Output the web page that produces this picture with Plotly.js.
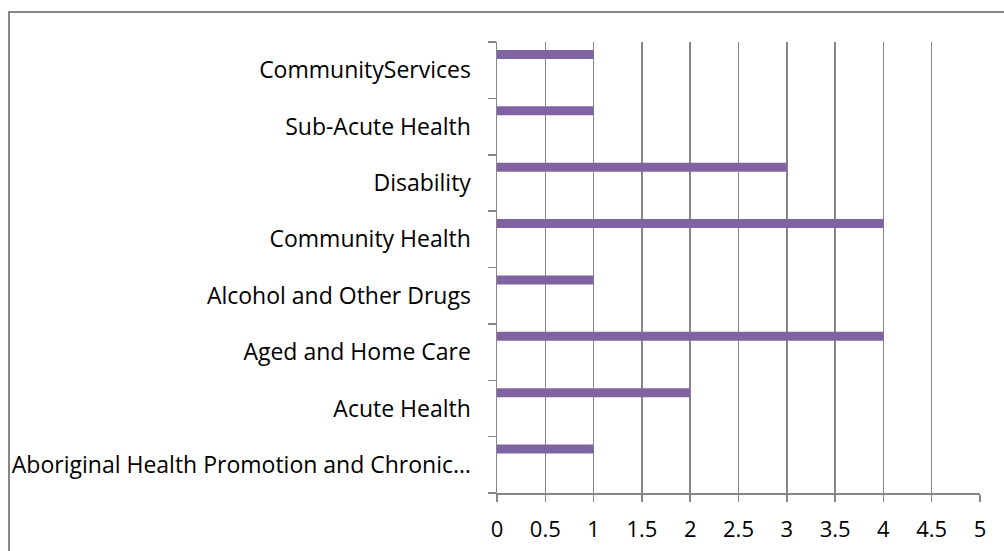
<!DOCTYPE html>
<html>
<head>
<meta charset="utf-8">
<script src="https://cdn.plot.ly/plotly-3.0.1.min.js"></script>
<style>html,body{margin:0;padding:0;background:#fff;}#chart{width:1004px;height:551px;}</style>
</head>
<body>
<div id="chart"></div>
<script>
var categories = [
  "Aboriginal Health Promotion and Chronic…",
  "Acute Health",
  "Aged and Home Care",
  "Alcohol and Other Drugs",
  "Community Health",
  "Disability",
  "Sub-Acute Health",
  "CommunityServices"
];
var values = [1, 2, 4, 1, 4, 3, 1, 1];
var xTickVals = [0, 0.5, 1, 1.5, 2, 2.5, 3, 3.5, 4, 4.5, 5];
var xTickText = ["0", "0.5", "1", "1.5", "2", "2.5", "3", "3.5", "4", "4.5", "5"];

var gray = "#868686";
var trace = {
  type: "bar",
  orientation: "h",
  y: categories,
  x: values,
  offset: 0.2,
  width: 0.16,
  marker: {color: "#8064A2", line: {width: 0}},
  hoverinfo: "x+y"
};

var layout = {
  width: 1004,
  height: 551,
  margin: {l: 497, r: 24, t: 42, b: 58, pad: 0},
  paper_bgcolor: "#ffffff",
  plot_bgcolor: "#ffffff",
  showlegend: false,
  font: {family: "'Open Sans', Lato, sans-serif", size: 22, color: "#000000"},
  xaxis: {
    range: [0, 5],
    tickvals: xTickVals,
    ticktext: xTickText,
    showgrid: true,
    gridcolor: gray,
    gridwidth: 1.5,
    zeroline: false,
    showline: true,
    linecolor: gray,
    linewidth: 1.5,
    ticks: "outside",
    ticklen: 7,
    tickwidth: 1.5,
    tickcolor: gray,
    ticklabelstandoff: 9,
    tickfont: {size: 22},
    fixedrange: true
  },
  yaxis: {
    type: "category",
    categoryorder: "array",
    categoryarray: categories,
    range: [-0.5, 7.5],
    tickson: "boundaries",
    showgrid: false,
    zeroline: false,
    showline: true,
    linecolor: gray,
    linewidth: 1.5,
    ticks: "outside",
    ticklen: 8,
    tickwidth: 1.5,
    tickcolor: gray,
    ticklabelstandoff: 20,
    tickfont: {size: 23},
    automargin: false,
    fixedrange: true
  },
  shapes: [{
    type: "rect",
    xref: "paper", yref: "paper",
    x0: -1.0104, x1: 1.2, y0: -0.3, y1: 1.0665,
    line: {color: gray, width: 2},
    fillcolor: "rgba(0,0,0,0)",
    layer: "above"
  }]
};

Plotly.newPlot("chart", [trace], layout, {displayModeBar: false, staticPlot: true});
</script>
</body>
</html>
